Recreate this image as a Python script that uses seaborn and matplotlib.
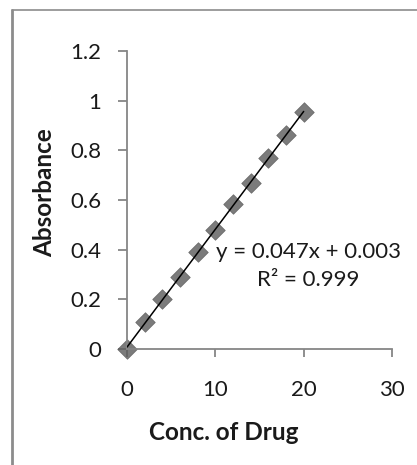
import numpy as np
import pandas as pd
import matplotlib
matplotlib.use("Agg")
import matplotlib.pyplot as plt
import seaborn as sns
from matplotlib.lines import Line2D

conc = [0, 2, 4, 6, 8, 10, 12, 14, 16, 18, 20]
absorbance = [0.0, 0.108, 0.203, 0.289, 0.389, 0.478, 0.585, 0.669, 0.768, 0.861, 0.956]
xticks = [0, 10, 20, 30]
yticks = [0, 0.2, 0.4, 0.6, 0.8, 1, 1.2]
ytick_labels = ["0", "0.2", "0.4", "0.6", "0.8", "1", "1.2"]
eq_text = "y = 0.047x + 0.003\nR² = 0.999"

sns.set_theme(style="white")
plt.rcParams["font.family"] = ["Lato", "DejaVu Sans"]

df = pd.DataFrame({"Conc. of Drug": conc, "Absorbance": absorbance})

fig = plt.figure(figsize=(4.17, 4.65), dpi=100)
ax = fig.add_axes([0.3046, 0.2495, 0.940 - 0.3046, 0.890 - 0.2495])

sns.regplot(data=df, x="Conc. of Drug", y="Absorbance", ax=ax, ci=None,
            marker="D",
            scatter_kws=dict(s=100, color="#5a5a5a", edgecolor="#5a5a5a", linewidths=0.5, zorder=2),
            line_kws=dict(color="black", lw=1.1, zorder=3))

ax.set_xlim(0, 30)
ax.set_ylim(0, 1.2)
ax.set_xticks(xticks)
ax.set_yticks(yticks)
ax.set_yticklabels(ytick_labels)
ax.set_xlabel("")
ax.set_ylabel("")
for s in ["top", "right"]:
    ax.spines[s].set_visible(False)
for s in ["left", "bottom"]:
    ax.spines[s].set_color("#868686")
    ax.spines[s].set_linewidth(1.3)
ax.tick_params(axis="y", direction="out", length=6.5, width=1.3, color="#868686",
               labelsize=16, pad=12, left=True)
ax.tick_params(axis="x", direction="out", length=5.5, width=1.3, color="#868686",
               labelsize=16, pad=17, bottom=True)
for lab in ax.get_xticklabels() + ax.get_yticklabels():
    lab.set_color("#1a1a1a")
ax.patch.set_alpha(0)
for c in ax.collections:
    c.set_clip_on(False)

fig.text(0.108, 0.585, "Absorbance", rotation=90, ha="center", va="center",
         fontsize=17.5, fontweight="bold", color="#1a1a1a")
fig.text(0.536, 0.069, "Conc. of Drug", ha="center", va="center",
         fontsize=17.5, fontweight="bold", color="#1a1a1a")
fig.text(0.739, 0.428, eq_text, ha="center", va="center", multialignment="center",
         fontsize=16, color="#1a1a1a", linespacing=1.52)

# chart frame (cropped outer border)
fig.add_artist(Line2D([12 / 417, 12 / 417], [0, 1 - 10 / 465], transform=fig.transFigure,
                      color="#8c8c8c", lw=2.0))
fig.add_artist(Line2D([12 / 417, 1], [1 - 10 / 465, 1 - 10 / 465], transform=fig.transFigure,
                      color="#8c8c8c", lw=1.2))

fig.savefig("out.png", dpi=100)
